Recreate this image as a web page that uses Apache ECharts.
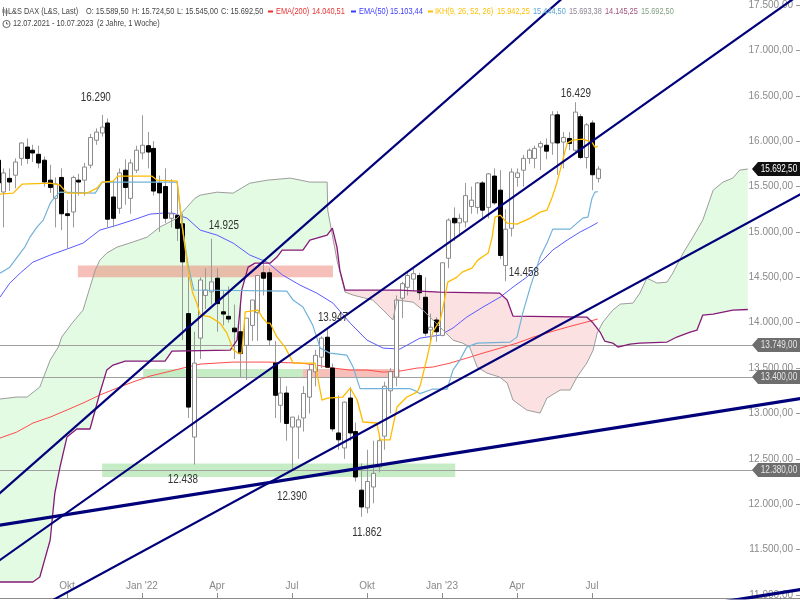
<!DOCTYPE html>
<html><head><meta charset="utf-8">
<script src="https://cdn.jsdelivr.net/npm/echarts@6/dist/echarts.min.js"></script>
<style>html,body{margin:0;padding:0;background:#fff}#c{width:800px;height:600px}</style>
</head><body><div id="c"></div>
<script>
// ---------- DATA ----------
const weekStart = [2021, 6, 12]; // first weekly candle: 12.07.2021
const opens  = [15790,15440,15590,15625,15810,15935,15900,15855,15790,15570,15370,15600,15200,15220,15570,15570,15735,16010,16090,16200,15385,15260,15680,15370,15680,15870,15950,15920,15540,15500,15150,15180,15090,14100,12740,13830,14300,14340,14490,14120,14070,13940,13900,13750,13970,14110,14550,14550,13555,13090,13225,12850,12850,12950,13180,13460,13620,13840,13500,12785,12620,13170,12800,12155,11960,12190,12410,12750,13250,13400,14270,14390,14480,14520,14280,13920,14030,13860,14710,15150,15100,15110,15280,15270,15540,15270,15615,15460,14630,15040,15600,15680,15810,15810,15935,15955,15980,16290,15990,16030,15900,16270,15820,16200,15589.5];
const highs  = [15810,15700,15700,15810,15990,16030,15960,15950,15830,15740,15600,15700,15350,15620,15640,15760,16080,16140,16290,16250,15570,15700,15800,15800,15950,16285,16100,16000,15620,15700,15580,15500,15200,14500,13900,14500,14600,14925,14600,14350,14400,14200,14200,14050,14250,14520,14700,14600,13800,13400,13300,12960,12980,13300,13550,13700,13850,13947,13550,13200,13130,13290,12900,12450,12600,12700,12750,13350,13500,14300,14450,14550,14600,14550,14500,14100,14060,14660,15150,15270,15200,15540,15500,15550,15560,15650,15700,15680,15250,15700,15700,15850,15920,15950,16000,16030,16330,16330,16100,16100,16429,16300,16200,16230,15724.5];
const lows   = [15530,15050,15450,15480,15730,15750,15770,15700,15500,15430,15050,15020,14820,15050,15400,15400,15700,15960,16050,15050,15050,15200,15300,15200,15650,15800,15700,15400,15000,15100,15050,14900,13810,12950,12438,13600,14150,14200,13900,13970,14000,13600,13400,13370,13800,13800,14300,13750,12950,12900,12700,12390,12500,12800,13000,13300,13500,13500,12800,12600,12500,12700,12250,11862,11900,12010,12350,12600,13000,13300,14050,14300,14350,14250,13850,13800,13790,13850,14600,14900,14950,15050,15200,15200,15150,15150,15300,14700,14458,14950,15500,15500,15750,15700,15680,15800,15850,15630,15700,15900,15880,15800,15700,15460,15545];
const closes = [15540,15650,15550,15770,15980,15810,15870,15760,15550,15490,15530,15200,15180,15600,15550,15715,16040,16100,16155,15140,15150,15650,15490,15760,15900,15955,15880,15450,15430,15150,15200,15040,14670,13070,13555,14470,14360,14450,14210,14095,14040,13900,13660,14050,14250,14520,14490,13810,13200,13225,12890,12960,12930,13220,13480,13640,13830,13510,12830,12710,13125,12785,12300,11970,12250,12340,12700,13300,13460,14250,14430,14520,14540,14330,13885,13950,13900,14660,15130,15100,15150,15400,15350,15540,15240,15640,15320,14740,15030,15660,15650,15810,15900,15920,15975,15890,16290,15980,16040,15975,16320,15820,16180,15630,15692.5];

// indicator lines: [week index, value]
const ema200 = [[0.4,12729],[3.3,12795],[6.1,12894],[9.1,12960],[12.0,13038],[14.8,13115],[17.7,13203],[20.7,13280],[23.4,13346],[26.4,13412],[29.3,13456],[32.1,13500],[35.1,13544],[40.8,13566],[46.7,13566],[52.4,13555],[55.3,13533],[58.1,13500],[61.1,13478],[64.0,13478],[66.8,13456],[69.7,13467],[72.7,13500],[75.4,13511],[78.4,13555],[81.3,13610],[84.1,13665],[87.1,13720],[90.0,13775],[92.8,13841],[95.7,13896],[98.7,13951],[101.4,13996],[104.0,14040.51]];
const ema50 = [[0.4,14282],[2.1,14436],[3.9,14546],[6.1,14667],[9.1,14745],[12.0,14811],[14.8,14877],[17.7,15020],[20.7,15075],[23.4,15130],[26.4,15196],[28.6,15207],[30.4,15207],[32.8,15152],[35.1,15020],[38.0,14965],[40.8,14877],[43.7,14745],[46.7,14667],[49.4,14524],[52.4,14414],[55.3,14326],[58.1,14216],[61.1,13995],[64.0,13808],[66.8,13720],[69.7,13709],[73.2,13830],[76.7,13864],[78.9,13941],[81.3,14062],[84.1,14172],[87.1,14282],[89.3,14392],[91.7,14502],[94.0,14656],[96.2,14800],[98.7,14910],[100.9,14998],[102.6,15053],[104.0,15103.44]];
const tenkan = [[0.4,15416],[2.7,15427],[4.2,15526],[9.1,15537],[10.8,15515],[12.0,15427],[15.5,15427],[17.2,15482],[18.1,15549],[20.0,15560],[20.8,15615],[26.7,15615],[27.6,15571],[31.1,15560],[32.0,15053],[33.0,14580],[33.8,14326],[34.5,14216],[35.1,14086],[36.8,14064],[38.5,13997],[39.7,13888],[40.8,13706],[41.6,13665],[42.3,13665],[42.9,14120],[43.2,14139],[45.1,14139],[45.8,14065],[46.7,13996],[47.2,13996],[48.4,13841],[49.8,13731],[50.7,13621],[51.2,13555],[55.0,13555],[56.2,13148],[57.1,13170],[59.8,13181],[61.1,13280],[62.3,13148],[63.3,12906],[65.7,12895],[66.3,12708],[68.0,12708],[69.2,13071],[70.9,13181],[72.7,13236],[73.2,13302],[74.4,13610],[75.4,13896],[76.7,14029],[77.2,14172],[78.0,14447],[79.6,14502],[80.5,14557],[82.2,14601],[83.2,14689],[85.0,14767],[85.7,14943],[86.2,15163],[87.1,15185],[88.3,15097],[90.0,15086],[92.3,15152],[94.0,15218],[95.2,15240],[96.1,15383],[96.9,15537],[97.8,15758],[98.7,15978],[99.7,16011],[101.4,16022],[103.0,15989],[103.5,15934],[104.0,15942.25]];
const kijun = [[0.4,14546],[2.1,14612],[3.9,14767],[4.7,14833],[5.6,14943],[6.8,15053],[7.9,15130],[9.1,15317],[9.9,15383],[10.8,15438],[16.9,15427],[18.1,15549],[31.1,15549],[32.0,15053],[33.0,14630],[34.0,14360],[50.1,14348],[51.2,14249],[52.9,14172],[54.6,13973],[55.9,13720],[57.6,13665],[60.5,13643],[61.6,13511],[62.8,13273],[71.5,13273],[72.3,13252],[73.2,13218],[75.4,13269],[77.9,13269],[78.9,13478],[80.1,13588],[81.3,13731],[83.1,13775],[88.8,13786],[90.0,13841],[91.0,14106],[92.3,14392],[94.0,14723],[95.2,14877],[96.2,15031],[99.2,15031],[101.4,15152],[102.3,15163],[103.0,15372],[103.5,15438],[104.0,15444.5]];
const spanA = [[0.4,13159],[3.3,13181],[5.1,13181],[7.3,13291],[9.1,13588],[10.5,13731],[11.1,13842],[12.9,13995],[14.8,14139],[16.0,14392],[16.9,14579],[17.7,14689],[18.9,14767],[20.7,14833],[23.4,14888],[25.9,14943],[28.1,15053],[31.1,15152],[32.8,15273],[34.2,15372],[35.1,15405],[38.0,15438],[40.8,15427],[43.7,15537],[46.7,15570],[50.7,15593],[54.1,15549],[57.1,15549],[57.2,15240],[58.8,14689],[60.2,14337],[61.6,14304],[65.0,14249],[66.8,14139],[68.5,14029],[69.2,14250],[72.0,14226],[73.7,14139],[74.9,14062],[77.2,13918],[78.9,13808],[80.6,13775],[81.8,13731],[83.1,13511],[84.8,13445],[87.0,13401],[88.3,13335],[89.3,13148],[91.7,13037],[94.0,13004],[95.2,13170],[97.5,13258],[99.2,13258],[100.4,13401],[102.1,13555],[103.2,13698],[103.9,13886],[104.9,14007],[106.6,14139],[107.9,14205],[110.1,14216],[111.3,14326],[112.5,14491],[114.3,14436],[116.0,14447],[117.0,14546],[118.8,14767],[120.5,14943],[122.2,15130],[124.0,15460],[125.7,15549],[127.4,15593],[128.6,15681],[130.0,15693.38]];
const spanB = [[0.4,11143],[6.1,11143],[7.3,11198],[9.1,11606],[9.9,12123],[10.8,12410],[12.0,12740],[13.7,12829],[16.0,12829],[16.9,13038],[17.7,13225],[18.9,13478],[20.0,13533],[22.1,13577],[29.0,13577],[30.2,13687],[40.3,13698],[41.5,13808],[42.3,14359],[43.4,14612],[44.6,14656],[47.2,14656],[48.4,14723],[49.3,14800],[52.9,14800],[54.1,14910],[57.1,14965],[58.0,15042],[58.8,14832],[59.3,14580],[60.2,14359],[69.7,14359],[76.6,14337],[87.0,14326],[88.3,14249],[89.3,14073],[102.1,14062],[103.2,13996],[104.4,13897],[105.2,13798],[106.6,13776],[107.5,13731],[109.6,13765],[111.3,13776],[116.0,13787],[117.7,13842],[120.0,13897],[121.2,13919],[122.2,14084],[124.0,14095],[125.7,14117],[127.4,14139],[130.0,14145.25]];

// trend lines: two points each [week index, value]
const trendSteep  = [[-2,11989],[100,17693]];
const trendUpper  = [[-2,11278],[140,17662]];
const trendLower  = [[-2,10545],[140,15444]];
const trendFlat   = [[-2,11747],[140,13173]];
const trendFlat2  = [[120,10867],[140,11068]];

// zones: [from week, to week, low, high]
const zonesRed   = [[13.9,58.1,14500,14630],[52.9,69.7,13390,13490]];
const zonesGreen = [[25.2,52.9,13390,13490],[18.1,79.3,12300,12450]];

// horizontal levels and last close
const levels = [13749, 13400, 12380];
const lastClose = 15692.5;

// swing annotations
const swingText  = ['16.290','14.925','13.947','12.438','12.390','11.862','14.458','16.429'];
const swingWeek  = [17.0, 39.2, 58.1, 32.1, 51.0, 64.0, 91.2, 100.2];
const swingValue = [16474, 15064, 14051, 12267, 12079, 11683, 14546, 16518];

// axis ticks
const xTickLabels = ['Okt', "Jan '22", 'Apr', 'Jul', 'Okt', "Jan '23", 'Apr', 'Jul'];
const yTicks = [11000,11500,12000,12500,13000,13500,14000,14500,15000,15500,16000,16500,17000,17500];

// ---------- HELPERS ----------
const FONT = '"Liberation Sans",Arial,sans-serif';
const NARROW = 0.82; // horizontal squeeze emulating a narrow face
function de(v, d) {
  const s = v.toFixed(d); let [ip, fp] = s.split('.');
  ip = ip.replace(/\B(?=(\d{3})+(?!\d))/g, '.');
  return fp ? ip + ',' + fp : ip;
}
const t0 = Date.UTC(weekStart[0], weekStart[1], weekStart[2]);
const xTickIdx = [];
for (let i = 0; i < closes.length; i++) {
  const d = new Date(t0 + i * 7 * 864e5), p = new Date(t0 + (i - 1) * 7 * 864e5);
  if ([0, 3, 6, 9].includes(d.getUTCMonth()) && d.getUTCMonth() !== p.getUTCMonth()) xTickIdx.push(i);
}
function interp(pts, t) {
  if (t <= pts[0][0]) return pts[0][1];
  for (let k = 1; k < pts.length; k++) {
    if (t <= pts[k][0]) {
      const [x0, y0] = pts[k - 1], [x1, y1] = pts[k];
      return x1 === x0 ? y1 : y0 + (y1 - y0) * (t - x0) / (x1 - x0);
    }
  }
  return pts[pts.length - 1][1];
}
const GREEN = '#e3fbe3', PINK = '#fbe1e1';
function cloudRender(params, api) {
  const xs = Array.from(new Set(spanA.map(p => p[0]).concat(spanB.map(p => p[0])))).sort((a, b) => a - b);
  const lo = Math.max(spanA[0][0], spanB[0][0]), hi = Math.min(spanA[spanA.length - 1][0], spanB[spanB.length - 1][0]);
  const rows = xs.filter(t => t >= lo && t <= hi).map(t => [t, interp(spanA, t), interp(spanB, t)]);
  const polys = []; let cur = null;
  for (let k = 0; k < rows.length; k++) {
    const [t, a, b] = rows[k]; const s = a >= b ? 1 : -1;
    if (!cur) { cur = { s, up: [[t, a]], dn: [[t, b]] }; continue; }
    if (s !== cur.s) {
      const [tp, ap, bp] = rows[k - 1];
      const d0 = ap - bp, d1 = a - b, f = d0 / (d0 - d1);
      const tc = tp + (t - tp) * f, vc = ap + (a - ap) * f;
      cur.up.push([tc, vc]); cur.dn.push([tc, vc]); polys.push(cur);
      cur = { s, up: [[tc, vc]], dn: [[tc, vc]] };
    }
    cur.up.push([t, a]); cur.dn.push([t, b]);
  }
  if (cur) polys.push(cur);
  return { type: 'group', children: polys.map(p => ({
    type: 'polygon',
    shape: { points: p.up.concat(p.dn.slice().reverse()).map(q => api.coord(q)) },
    style: { fill: p.s > 0 ? GREEN : PINK, stroke: null }
  })) };
}
function zoneRender(color) {
  return function (params, api) {
    const a = api.coord([api.value(0), api.value(3)]), b = api.coord([api.value(1), api.value(2)]);
    return { type: 'rect', shape: { x: a[0], y: a[1], width: b[0] - a[0], height: b[1] - a[1] }, style: { fill: color } };
  };
}
function candleRender(params, api) {
  const i = api.value(0), o = api.value(1), c = api.value(2), l = api.value(3), h = api.value(4);
  const pO = api.coord([i, o]), pC = api.coord([i, c]), pL = api.coord([i, l]), pH = api.coord([i, h]);
  const x = Math.round(pO[0]) + 0.5;
  const top = Math.min(pO[1], pC[1]), bot = Math.max(pO[1], pC[1]);
  const up = c >= o;
  return { type: 'group', children: [
    { type: 'line', shape: { x1: x, y1: pH[1], x2: x, y2: pL[1] }, style: { stroke: '#9a9a9a', lineWidth: 1 } },
    { type: 'rect', shape: { x: x - 2, y: top, width: 4, height: Math.max(bot - top, 1) },
      style: { fill: up ? '#ffffff' : '#000000', stroke: up ? '#8a8a8a' : '#000000', lineWidth: 1 } }
  ] };
}
function levelRender(params, api) {
  const y = Math.round(api.coord([1, api.value(0)])[1]) + 0.5;
  const W = api.getWidth();
  return { type: 'line', shape: { x1: 0, y1: y, x2: W - 46, y2: y }, style: { stroke: '#a0a0a0', lineWidth: 1 } };
}
function tagRender(params, api) {
  const v = api.value(0), kind = api.value(1);
  const y = Math.round(api.coord([1, v])[1]);
  const W = api.getWidth();
  const pts = [[W - 48, y], [W - 42, y - 7], [W, y - 7], [W, y + 7], [W - 42, y + 7]];
  return { type: 'group', children: [
    { type: 'polygon', shape: { points: pts }, style: { fill: kind === 0 ? '#111111' : '#6e6e6e' } },
    { type: 'text', x: W - 21, y: y + 0.5, scaleX: NARROW,
      style: { text: de(v, 2), x: 0, y: 0, align: 'center', verticalAlign: 'middle',
      fill: kind === 0 ? '#ffffff' : '#e6e6e6', fontSize: 10, fontFamily: FONT } }
  ] };
}
function swingRender(params, api) {
  const p = api.coord([api.value(0), api.value(1)]);
  return { type: 'text', x: p[0], y: p[1], scaleX: NARROW,
    style: { text: swingText[params.dataIndex], x: 0, y: 0, align: 'center', verticalAlign: 'middle',
    fill: '#333333', fontSize: 12, fontFamily: FONT } };
}
function lineSeries(data, color, width, z) {
  return { type: 'line', data, symbol: 'none', showSymbol: false, silent: true, z,
    lineStyle: { color, width }, animation: false };
}

// ---------- CHART ----------
const chart = echarts.init(document.getElementById('c'), null, { renderer: 'canvas' });
const legendTexts = [
  { x: 8, t: 'L&S DAX (L&S, Last)', c: '#444' },
  { x: 86, t: 'O: ' + de(opens[104], 2), c: '#444' },
  { x: 132, t: 'H: ' + de(highs[104], 2), c: '#444' },
  { x: 177, t: 'L: ' + de(lows[104], 2), c: '#444' },
  { x: 221, t: 'C: ' + de(closes[104], 2), c: '#444' },
  { x: 276, t: 'EMA(200)', c: '#e83030' },
  { x: 312, t: de(ema200[ema200.length - 1][1], 2), c: '#e83030' },
  { x: 359, t: 'EMA(50)', c: '#3b3bff' },
  { x: 390, t: de(ema50[ema50.length - 1][1], 2), c: '#3b3bff' },
  { x: 435, t: 'IKH(9, 26, 52, 26)', c: '#ffbf00' },
  { x: 497, t: de(tenkan[tenkan.length - 1][1], 2), c: '#ffbf00' },
  { x: 533, t: de(kijun[kijun.length - 1][1], 2), c: '#5aa5d5' },
  { x: 569, t: de(spanA[spanA.length - 1][1], 2), c: '#8c8494' },
  { x: 605, t: de(spanB[spanB.length - 1][1], 2), c: '#a0507e' },
  { x: 641, t: de(closes[104], 2), c: '#7f9f7f' }
];
const graphics = legendTexts.map(s => ({ type: 'text', x: s.x, y: 11.5, scaleX: NARROW, silent: true, z: 100,
  style: { text: s.t, x: 0, y: 0, verticalAlign: 'middle', fill: s.c, fontSize: 9, fontFamily: FONT } }));
graphics.push(
  { type: 'rect', shape: { x: 268, y: 10.5, width: 5, height: 2 }, style: { fill: '#e83030' }, z: 100 },
  { type: 'rect', shape: { x: 351, y: 10.5, width: 5, height: 2 }, style: { fill: '#3b3bff' }, z: 100 },
  { type: 'rect', shape: { x: 428, y: 10.5, width: 5, height: 2 }, style: { fill: '#ffbf00' }, z: 100 },
  { type: 'line', shape: { x1: 3.5, y1: 7, x2: 3.5, y2: 16 }, style: { stroke: '#777', lineWidth: 1 }, z: 100 },
  { type: 'rect', shape: { x: 2.5, y: 9, width: 2, height: 4 }, style: { fill: '#777' }, z: 100 },
  { type: 'line', shape: { x1: 6.5, y1: 8, x2: 6.5, y2: 16 }, style: { stroke: '#777', lineWidth: 1 }, z: 100 },
  { type: 'rect', shape: { x: 5.5, y: 10, width: 2, height: 4 }, style: { fill: '#777' }, z: 100 },
  { type: 'circle', shape: { cx: 6.5, cy: 24, r: 3.6 }, style: { fill: 'none', stroke: '#666', lineWidth: 1 }, z: 100 },
  { type: 'polyline', shape: { points: [[6.5, 21.8], [6.5, 24], [8.3, 24]] }, style: { stroke: '#666', lineWidth: 1, fill: null }, z: 100 },
  { type: 'text', x: 13, y: 24, scaleX: NARROW, z: 100, style: { text: '12.07.2021 - 10.07.2023', x: 0, y: 0, verticalAlign: 'middle', fill: '#444', fontSize: 9, fontFamily: FONT } },
  { type: 'text', x: 97, y: 24, scaleX: NARROW, z: 100, style: { text: '(2 Jahre, 1 Woche)', x: 0, y: 0, verticalAlign: 'middle', fill: '#444', fontSize: 9, fontFamily: FONT } }
);

const candleData = opens.map((o, i) => [i, o, closes[i], lows[i], highs[i]]);
const option = {
  animation: false,
  backgroundColor: '#ffffff',
  grid: { left: 0, right: 0, top: 0, bottom: 2 },
  xAxis: {
    type: 'value', min: 0.4, max: 139.05,
    splitLine: { show: false },
    axisLine: { show: true, lineStyle: { color: '#8c8c8c' } },
    axisTick: { show: true, inside: true, length: 5, customValues: xTickIdx, lineStyle: { color: '#8c8c8c' } },
    axisLabel: { show: true, inside: true, customValues: xTickIdx, margin: 7, color: '#888', fontSize: 10, fontFamily: FONT,
      formatter: v => xTickLabels[xTickIdx.indexOf(Math.round(v))] || '' }
  },
  yAxis: {
    type: 'value', position: 'right', min: 10967, max: 17553,
    splitLine: { show: false },
    axisLine: { show: false },
    axisTick: { show: true, inside: true, length: 4, customValues: yTicks, lineStyle: { color: '#999' } },
    axisLabel: { show: true, inside: true, customValues: yTicks, margin: 7, color: '#8a8a8a', fontSize: 10, fontFamily: FONT,
      formatter: v => de(v, 2) }
  },
  graphic: graphics,
  series: [
    { type: 'custom', renderItem: cloudRender, data: [[0, 14000]], z: 1, silent: true, clip: true },
    { type: 'custom', renderItem: zoneRender('rgba(236,112,100,0.45)'), data: zonesRed, z: 2, silent: true, clip: true,
      encode: { x: [0, 1], y: [2, 3] } },
    { type: 'custom', renderItem: zoneRender('rgba(120,210,120,0.42)'), data: zonesGreen, z: 2, silent: true, clip: true,
      encode: { x: [0, 1], y: [2, 3] } },
    { type: 'custom', renderItem: levelRender, data: levels.map(v => [v]), z: 3, silent: true, encode: { y: 0 } },
    lineSeries(ema200, '#ff4a4a', 1, 4),
    lineSeries(ema50, '#5a5aff', 1, 4),
    { type: 'custom', renderItem: candleRender, data: candleData, z: 5, silent: true, clip: true,
      encode: { x: 0, y: [1, 2, 3, 4] } },
    lineSeries(spanA, '#9c9c9c', 1, 6),
    lineSeries(spanB, '#861a78', 1.3, 6),
    lineSeries(kijun, '#72b2da', 1.2, 6),
    lineSeries(tenkan, '#ffbb00', 1.3, 6),
    lineSeries(trendSteep, '#00007a', 2.2, 8),
    lineSeries(trendUpper, '#00007a', 2.2, 8),
    lineSeries(trendLower, '#00007a', 2.2, 8),
    lineSeries(trendFlat, '#00007a', 3.2, 8),
    lineSeries(trendFlat2, '#00007a', 3.2, 8),
    { type: 'custom', renderItem: swingRender, data: swingWeek.map((w, k) => [w, swingValue[k]]), z: 9, silent: true },
    { type: 'custom', renderItem: tagRender, data: levels.map(v => [v, 1]).concat([[lastClose, 0]]), z: 20, silent: true,
      encode: { y: 0 } }
  ]
};
chart.setOption(option);
</script>
</body></html>
